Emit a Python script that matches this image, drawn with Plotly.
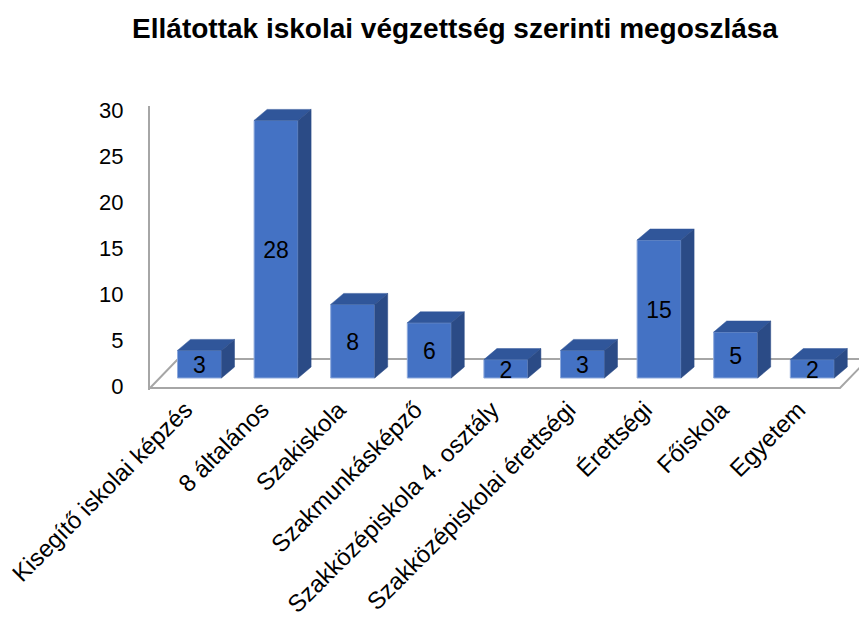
import plotly.graph_objects as go

# ---- data ----
categories = ["Kisegítő iskolai képzés", "8 általános", "Szakiskola", "Szakmunkásképző",
              "Szakközépiskola 4. osztály", "Szakközépiskolai érettségi", "Érettségi",
              "Főiskola", "Egyetem"]
values = [3, 28, 8, 6, 2, 3, 15, 5, 2]
y_ticks = [0, 5, 10, 15, 20, 25, 30]
title_text = "Ellátottak iskolai végzettség szerinti megoszlása"

# ---- geometry / style (page-pixel-derived layout constants) ----
OFF = 8                      # default page body margin
PAGE_W, PAGE_H = 867, 619
W, H = PAGE_W - OFF, PAGE_H - OFF
PX_CAT = 76.6                # pixels per category
PX_VAL = 9.2                 # pixels per value unit
ZERO_PX = 386                # page row of value 0 on axis
LEFT_PX, TOP_PX, BOTTOM_PX = 150, 106, 390
FIRST_CAT_PX = 199.5

def v_of(p):
    return (ZERO_PX - p) / PX_VAL

def x_of(p):
    return (p - FIRST_CAT_PX) / PX_CAT

bar_w = 44 / PX_CAT
base0 = v_of(378)            # bar front base
ddx = 13 / PX_CAT            # depth offset x
ddy = 11 / PX_VAL            # depth offset y
lab_dy = -3 / PX_VAL         # data label nudge

FRONT = "#4472C4"
TOP = "#30569A"
SIDE = "#2B4B86"
EDGE = "#8FAADC"
GRID = "#A6A6A6"
FONT = "Liberation Sans, Arial, sans-serif"

idx = list(range(len(categories)))
n = len(categories)

fig = go.Figure()

# floor outline
fl_front = v_of(388)
fl_back = v_of(359)
fl_dx = 28 / PX_CAT
fx_left = x_of(LEFT_PX)
fx_right = x_of(840)
fig.add_trace(go.Scatter(
    x=[fx_left, fx_right, fx_right + fl_dx, fx_left + fl_dx, fx_left],
    y=[fl_front, fl_front, fl_back, fl_back, fl_front],
    mode="lines", line=dict(color=GRID, width=2),
    hoverinfo="skip", showlegend=False))

# faces
fx, fy, tx, ty, sx, sy = [], [], [], [], [], []
for i, v in zip(idx, values):
    xl, xr = i - bar_w / 2, i + bar_w / 2
    t = base0 + v
    fx += [xl, xr, xr, xl, xl, None]
    fy += [base0, base0, t, t, base0, None]
    tx += [xl, xr, xr + ddx, xl + ddx, xl, None]
    ty += [t, t, t + ddy, t + ddy, t, None]
    sx += [xr, xr + ddx, xr + ddx, xr, xr, None]
    sy += [base0, base0 + ddy, t + ddy, t, base0, None]
fig.add_trace(go.Scatter(x=fx, y=fy, mode="lines", fill="toself", fillcolor=FRONT,
                         line=dict(color=EDGE, width=1), hoverinfo="skip", showlegend=False))
fig.add_trace(go.Scatter(x=tx, y=ty, mode="lines", fill="toself", fillcolor=TOP,
                         line=dict(color=TOP, width=0.5), hoverinfo="skip", showlegend=False))
fig.add_trace(go.Scatter(x=sx, y=sy, mode="lines", fill="toself", fillcolor=SIDE,
                         line=dict(color=SIDE, width=0.5), hoverinfo="skip", showlegend=False))

# data labels
fig.add_trace(go.Scatter(
    x=idx, y=[base0 + v / 2 + lab_dy for v in values], text=[str(v) for v in values],
    mode="text", textfont=dict(family=FONT, size=23, color="black"),
    cliponaxis=False, hoverinfo="skip", showlegend=False))

label_shift = -14 / PX_CAT
fig.update_layout(
    width=W, height=H,
    margin=dict(l=LEFT_PX - OFF, r=0, t=TOP_PX - OFF, b=PAGE_H - BOTTOM_PX),
    paper_bgcolor="white", plot_bgcolor="white",
    font=dict(family=FONT, color="black"),
    title=dict(text=f"<b>{title_text}</b>", x=(455 - OFF) / W, xanchor="center",
               y=1 - (28 - OFF) / H, yanchor="middle", font=dict(size=28, color="black")),
    xaxis=dict(range=[x_of(LEFT_PX), x_of(PAGE_W)], tickvals=[i + label_shift for i in idx],
               ticktext=categories, tickangle=-45, showgrid=False, zeroline=False,
               showline=False, ticks="", ticklabeloverflow="allow", automargin=False,
               tickfont=dict(size=24, color="black")),
    yaxis=dict(range=[v_of(BOTTOM_PX), v_of(TOP_PX)], tickvals=y_ticks, automargin=False,
               showgrid=False, zeroline=False, showline=True, linecolor=GRID, linewidth=2,
               ticks="", ticklabelstandoff=20, tickfont=dict(size=22, color="black")),
)

fig.write_html("out.html")
